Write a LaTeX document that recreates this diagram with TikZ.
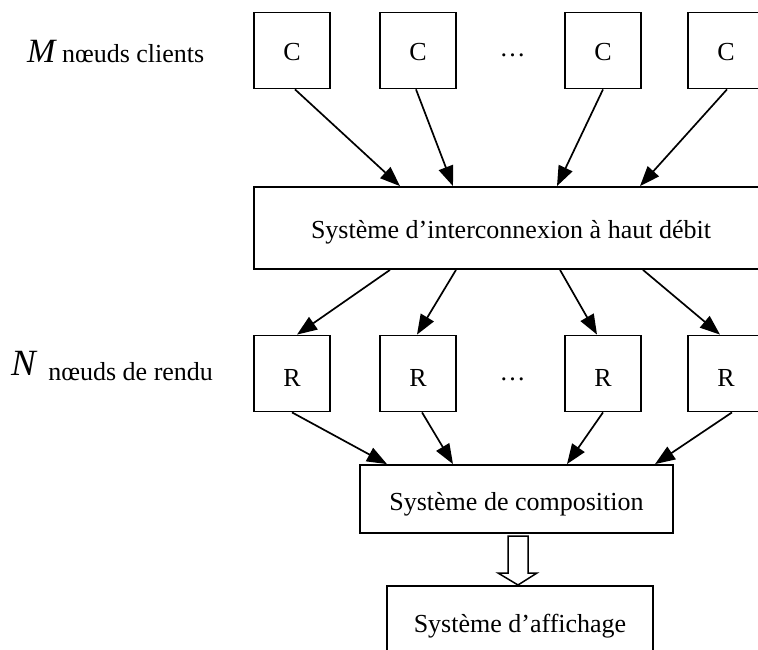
\documentclass[tikz,border=0pt]{standalone}
\usepackage{fontspec}
\setmainfont{Liberation Serif}
\usetikzlibrary{arrows.meta}
\begin{document}
\begin{tikzpicture}[x=1pt,y=-1pt,
  every node/.style={font=\fontsize{26}{30}\selectfont, inner sep=0pt},
  box/.style={draw, line width=1.8pt, minimum width=76pt, minimum height=76pt},
  wide/.style={draw, line width=1.8pt},
  arr/.style={line width=1.7pt, -{Triangle[length=20pt,width=15pt]}}]
\useasboundingbox (0,0) rectangle (758,650);
\clip (0,0) rectangle (758,650);

% row labels
\node[anchor=base west] (lblM) at (27,63)
  {{\fontsize{34}{40}\selectfont\itshape M} nœuds clients};
\node[anchor=base west] (lblN) at (11,380)
  {\raisebox{5pt}{\fontsize{37}{40}\selectfont\itshape N}\hspace{6pt} nœuds de rendu};

% client nodes
\node[box, text height=21pt] (c1) at (292,50.5) {C};
\node[box, text height=21pt] (c2) at (418,50.5) {C};
\node[anchor=base] (dotsC) at (512.5,57) {…};
\node[box, text height=21pt] (c3) at (603,50.5) {C};
\node[box, text height=21pt] (c4) at (726,50.5) {C};

% interconnect
\node[wide, minimum width=514pt, minimum height=82pt, text height=26pt, text depth=6pt]
  (ic) at (511,228) {Système d’interconnexion à haut débit};

% render nodes
\node[box, text height=26pt] (r1) at (292,373.5) {R};
\node[box, text height=26pt] (r2) at (418,373.5) {R};
\node[anchor=base] (dotsR) at (512.5,380) {…};
\node[box, text height=26pt] (r3) at (603,373.5) {R};
\node[box, text height=26pt] (r4) at (726,373.5) {R};

% composition and display
\node[wide, minimum width=313pt, minimum height=68pt, text height=28pt, text depth=6pt]
  (comp) at (516.5,499) {Système de composition};
\node[wide, minimum width=266pt, minimum height=80pt, text height=18pt, text depth=6pt]
  (disp) at (520,626) {Système d’affichage};

% clients -> interconnect
\draw[arr] ([xshift=3pt]c1.south) -- ([xshift=-111pt]ic.north);
\draw[arr] ([xshift=-2pt]c2.south) -- ([xshift=-58pt]ic.north);
\draw[arr] (c3.south) -- ([xshift=46pt]ic.north);
\draw[arr] ([xshift=1pt]c4.south) -- ([xshift=129pt]ic.north);

% interconnect -> render nodes
\draw[arr] ([xshift=-121pt]ic.south) -- ([xshift=5pt]r1.north);
\draw[arr] ([xshift=-55pt]ic.south) -- ([xshift=-1pt]r2.north);
\draw[arr] ([xshift=49pt]ic.south) -- ([xshift=-6pt]r3.north);
\draw[arr] ([xshift=132pt]ic.south) -- ([xshift=-6pt]r4.north);

% render nodes -> composition
\draw[arr] (r1.south) -- ([xshift=-129.5pt]comp.north);
\draw[arr] ([xshift=4pt]r2.south) -- ([xshift=-63.5pt]comp.north);
\draw[arr] (r3.south) -- ([xshift=50.5pt]comp.north);
\draw[arr] ([xshift=6pt]r4.south) -- ([xshift=138.5pt]comp.north);

% hollow block arrow: composition -> display
\draw[line width=1.5pt, fill=white]
  (508,536) -- (528,536) -- (528,573) -- (537,573) -- (518,585)
  -- (498,573) -- (508,573) -- cycle;
\end{tikzpicture}
\end{document}
